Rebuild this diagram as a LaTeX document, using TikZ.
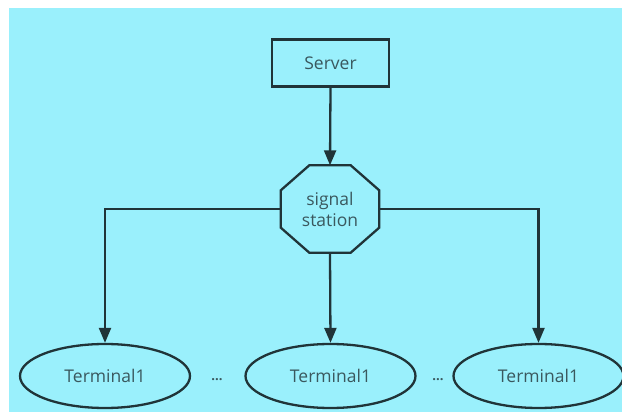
\documentclass[tikz,border=0pt]{standalone}
\usepackage{fontspec}
\setmainfont{Open Sans}
\usetikzlibrary{shapes.geometric,arrows.meta}
\definecolor{bgcyan}{RGB}{154,240,252}
\definecolor{linedark}{RGB}{32,52,56}
\definecolor{textgrey}{RGB}{58,88,94}
\tikzset{
  conn/.style={draw=linedark, line width=2.3pt, -{Triangle[length=15pt,width=12pt]}},
  boxnode/.style={draw=linedark, line width=2.3pt, minimum width=117pt, minimum height=47pt, inner sep=0pt, text=textgrey, font=\fontsize{17.5}{21}\selectfont},
  octnode/.style={minimum width=98pt, minimum height=87pt, inner sep=0pt, align=center, text=textgrey, font=\fontsize{17.5}{21}\selectfont},
  termnode/.style={ellipse, draw=linedark, line width=2.3pt, minimum width=170pt, minimum height=64pt, inner sep=0pt, text=textgrey, font=\fontsize{17.5}{21}\selectfont},
  dotnode/.style={text=textgrey, font=\bfseries\fontsize{13}{15}\selectfont, inner sep=0pt}
}
\begin{document}
\begin{tikzpicture}[x=1pt,y=-1pt]
\useasboundingbox (0,0) rectangle (622,414);
\fill[white] (0,0) rectangle (622,414);
\fill[bgcyan] (9,8) rectangle (622,412);
\node[boxnode] (sv) at (330.5,63) {Server};
\node[octnode] (st) at (330,209) {signal\\station};
\draw[linedark, line width=2.3pt]
  ([xshift=28.5pt]st.north west) -- ([xshift=-28.5pt]st.north east)
  -- ([yshift=-25pt]st.north east) -- ([yshift=25pt]st.south east)
  -- ([xshift=-28.5pt]st.south east) -- ([xshift=28.5pt]st.south west)
  -- ([yshift=25pt]st.south west) -- ([yshift=-25pt]st.north west) -- cycle;
\node[termnode] (t1) at (105,376) {Terminal1};
\node[termnode] (t2) at (330.5,376) {Terminal1};
\node[termnode] (t3) at (538.5,376) {Terminal1};
\node[dotnode] (d1) at (217,380) {...};
\node[dotnode] (d2) at (438,380) {...};
\draw[conn] (sv.south) -- (st.north);
\draw[conn] (st.west) -| (t1.north);
\draw[conn] (st.south) -- (t2.north);
\draw[conn] (st.east) -| (t3.north);
\end{tikzpicture}
\end{document}
